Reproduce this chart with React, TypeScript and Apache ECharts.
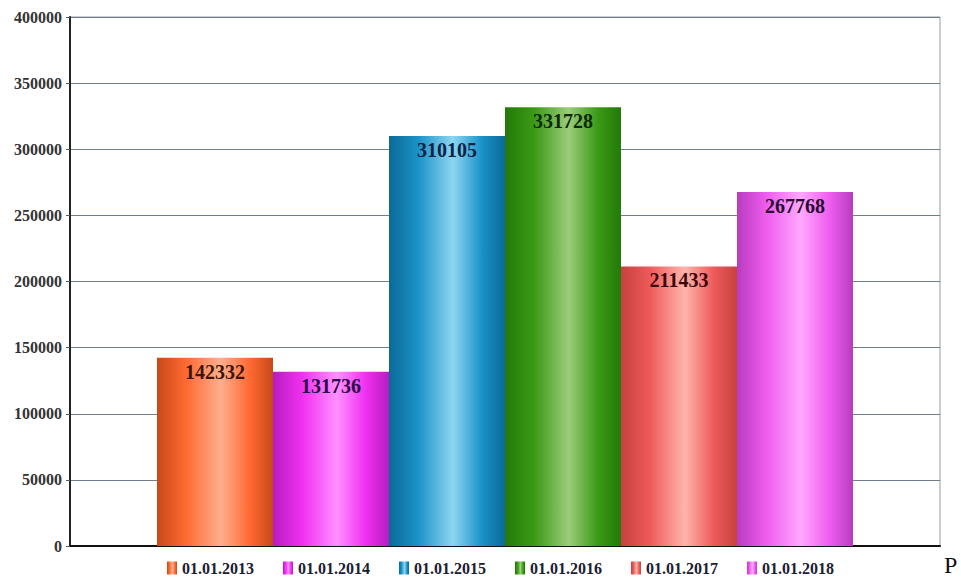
import React, { useEffect, useRef } from "react";
import * as echarts from "echarts";

const seriesNames = ["01.01.2013", "01.01.2014", "01.01.2015", "01.01.2016", "01.01.2017", "01.01.2018"];
const seriesValues = [142332, 131736, 310105, 331728, 211433, 267768];
const yTicks = { min: 0, max: 400000, interval: 50000 };

// [edge, body, highlight, labelColor]
const palettes = [
  ["#c8481a", "#ff6a32", "#ffae8e", "#3a1608"],
  ["#b81cc0", "#f030f0", "#ff90ff", "#2a0a48"],
  ["#0a6a98", "#1a92c8", "#8cd6f2", "#0a2448"],
  ["#237a08", "#3a9a14", "#9ccc7c", "#0a2a0a"],
  ["#c84040", "#ee5a5a", "#ffb4ac", "#3a0808"],
  ["#b83cc0", "#ee5cee", "#ffa8ff", "#2a0a30"],
];

function grad(p: string[]) {
  return new echarts.graphic.LinearGradient(0, 0, 1, 0, [
    { offset: 0, color: p[0] },
    { offset: 0.25, color: p[1] },
    { offset: 0.55, color: p[2] },
    { offset: 0.8, color: p[1] },
    { offset: 1, color: p[0] },
  ]);
}

export default function App() {
  const ref = useRef<HTMLDivElement>(null);
  useEffect(() => {
    if (!ref.current) return;
    const chart = echarts.init(ref.current, null, { renderer: "svg" });
    const font = "'Liberation Serif', 'Times New Roman', serif";
    chart.setOption({
      animation: false,
      backgroundColor: "#ffffff",
      grid: { left: 70, right: 21, top: 17, bottom: 33, show: true, borderColor: "#9a9a9a", borderWidth: 1 },
      legend: {
        left: 167,
        top: 560,
        itemWidth: 10,
        itemHeight: 13,
        itemGap: 29,
        padding: 0,
        icon: "rect",
        textStyle: { fontFamily: font, fontWeight: "bold", fontSize: 16, lineHeight: 16, color: "#1a2030" },
        data: seriesNames,
      },
      xAxis: {
        type: "category",
        data: [""],
        axisLine: { lineStyle: { color: "#111", width: 2 } },
        axisTick: { show: false },
        axisLabel: { show: false },
      },
      yAxis: {
        type: "value",
        min: yTicks.min,
        max: yTicks.max,
        interval: yTicks.interval,
        axisLine: { show: true, lineStyle: { color: "#222", width: 2 } },
        axisTick: { show: true, length: 4, lineStyle: { color: "#555" } },
        axisLabel: {
          fontFamily: font,
          fontWeight: "bold",
          fontSize: 16,
          color: "#333",
          margin: 8,
          formatter: (v: number) => String(v),
        },
        splitLine: { lineStyle: { color: "#6d7f8e", width: 1.2 } },
      },
      series: seriesNames.map((name, i) => ({
        name,
        type: "bar",
        data: [seriesValues[i]],
        barWidth: 116,
        barGap: "0%",
        itemStyle: { color: grad(palettes[i]) },
        label: {
          show: true,
          position: "insideTop",
          distance: 4,
          fontFamily: font,
          fontWeight: "bold",
          fontSize: 20,
          color: palettes[i][3],
        },
      })),
      graphic: [
        {
          type: "text",
          left: 944,
          top: 553,
          style: { text: "P", fontFamily: font, fontSize: 24, fill: "#111" },
        },
      ],
    });
    return () => chart.dispose();
  }, []);
  return <div ref={ref} style={{ position: "absolute", left: 0, top: 0, width: 961, height: 579 }} />;
}
